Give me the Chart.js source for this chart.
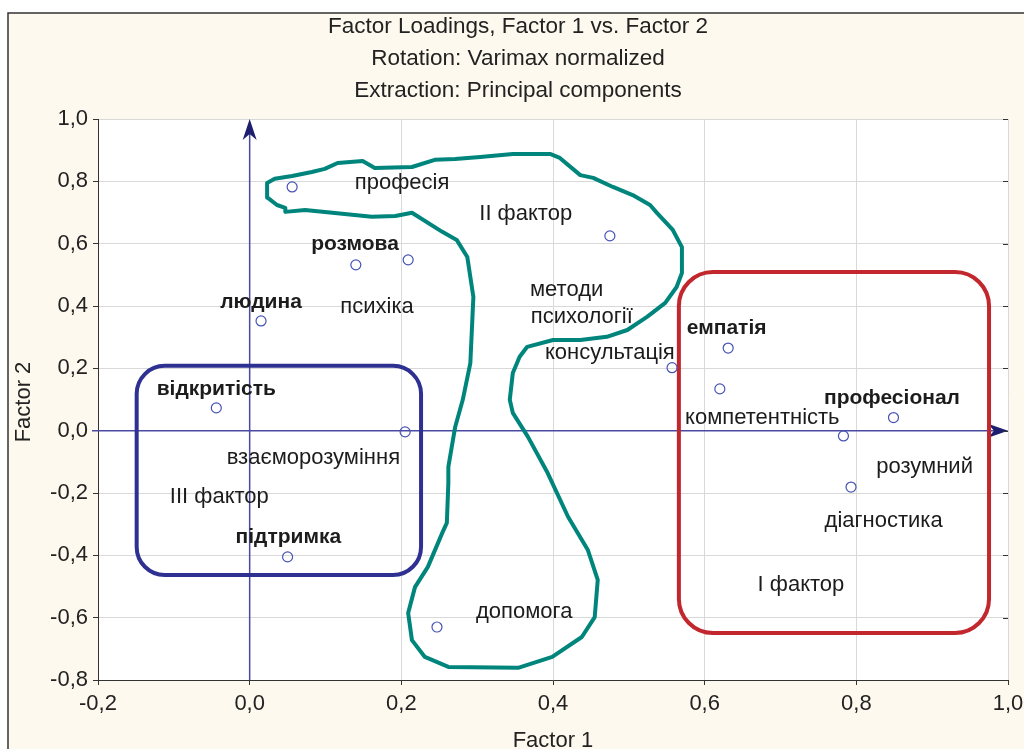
<!DOCTYPE html>
<html>
<head>
<meta charset="utf-8">
<script src="https://cdn.jsdelivr.net/npm/chart.js@4.4.1/dist/chart.umd.min.js"></script>
<style>
  html, body { margin: 0; padding: 0; background: #ffffff; }
  #wrap { width: 1024px; height: 749px; position: relative; }
</style>
</head>
<body>
<div id="wrap"><canvas id="chart"></canvas></div>
<script>
// titles and axis names
const titleLines = ["Factor Loadings, Factor 1 vs. Factor 2", "Rotation: Varimax normalized", "Extraction: Principal components"];
const xAxisName = "Factor 1";
const yAxisName = "Factor 2";

// ticks
const xTickValues = [-0.2, 0, 0.2, 0.4, 0.6, 0.8, 1.0];
const xTickLabels = ["-0,2", "0,0", "0,2", "0,4", "0,6", "0,8", "1,0"];
const yTickValues = [-0.8, -0.6, -0.4, -0.2, 0, 0.2, 0.4, 0.6, 0.8, 1.0];
const yTickLabels = ["-0,8", "-0,6", "-0,4", "-0,2", "0,0", "0,2", "0,4", "0,6", "0,8", "1,0"];

// factor loadings
const factor1 = [0.056, 0.140, 0.209, 0.015, -0.044, 0.205, 0.050, 0.247, 0.475, 0.557, 0.631, 0.620, 0.849, 0.783, 0.793];
const factor2 = [0.782, 0.532, 0.548, 0.352, 0.073, -0.004, -0.405, -0.630, 0.625, 0.202, 0.265, 0.134, 0.042, -0.017, -0.181];

// word labels placed in data coordinates
const labelText = ["професія", "II фактор", "розмова", "людина", "психіка", "методи", "психології", "консультація",
  "відкритість", "взаєморозуміння", "III фактор", "підтримка", "допомога", "емпатія", "професіонал",
  "компетентність", "розумний", "діагностика", "I фактор"];
const labelX = [0.201, 0.364, 0.139, 0.015, 0.168, 0.418, 0.438, 0.475, -0.044, 0.084, -0.040, 0.051, 0.362, 0.629, 0.847, 0.676, 0.890, 0.836, 0.727];
const labelY = [0.795, 0.695, 0.599, 0.413, 0.397, 0.452, 0.365, 0.250, 0.134, -0.088, -0.213, -0.341, -0.581, 0.330, 0.105, 0.041, -0.117, -0.290, -0.495];
const labelBold = [false, false, true, true, false, false, false, false, true, false, false, true, false, true, true, false, false, false, false];

// hand-drawn outline of factor II (closed path)
const blobX = [0.023, 0.033, 0.056, 0.082, 0.099, 0.116, 0.149, 0.165, 0.214, 0.244, 0.271, 0.304, 0.347, 0.396, 0.409,
  0.436, 0.453, 0.479, 0.505, 0.528, 0.537, 0.558, 0.570, 0.570, 0.563, 0.548, 0.524, 0.498, 0.471, 0.436, 0.400,
  0.366, 0.356, 0.347, 0.343, 0.347, 0.367, 0.393, 0.420, 0.446, 0.459, 0.455, 0.438, 0.399, 0.354, 0.262, 0.231,
  0.214, 0.209, 0.218, 0.235, 0.254, 0.260, 0.262, 0.262, 0.271, 0.281, 0.291, 0.295, 0.287, 0.273, 0.254, 0.214,
  0.192, 0.161, 0.109, 0.073, 0.047, 0.047, 0.036, 0.024, 0.023];
const blobY = [0.795, 0.808, 0.817, 0.830, 0.840, 0.859, 0.865, 0.843, 0.846, 0.869, 0.872, 0.878, 0.888, 0.888, 0.875,
  0.820, 0.811, 0.782, 0.756, 0.724, 0.699, 0.644, 0.589, 0.506, 0.461, 0.410, 0.365, 0.323, 0.301, 0.291, 0.291,
  0.269, 0.237, 0.185, 0.099, 0.057, -0.020, -0.136, -0.277, -0.383, -0.479, -0.598, -0.662, -0.726, -0.761, -0.758, -0.726,
  -0.672, -0.585, -0.502, -0.437, -0.328, -0.296, -0.168, -0.116, 0.012, 0.099, 0.217, 0.429, 0.557, 0.612, 0.638, 0.699,
  0.689, 0.686, 0.699, 0.708, 0.702, 0.715, 0.724, 0.747, 0.795];

// rounded boxes for factor III and factor I: [x1, x2, y1, y2]
const boxIII = [-0.149, 0.226, 0.208, -0.463];
const boxI = [0.566, 0.975, 0.509, -0.649];

const FONT = '"Liberation Sans", Arial, sans-serif';

function roundRect(ctx, x1, y1, x2, y2, r) {
  ctx.beginPath();
  ctx.moveTo(x1 + r, y1);
  ctx.lineTo(x2 - r, y1);
  ctx.arcTo(x2, y1, x2, y1 + r, r);
  ctx.lineTo(x2, y2 - r);
  ctx.arcTo(x2, y2, x2 - r, y2, r);
  ctx.lineTo(x1 + r, y2);
  ctx.arcTo(x1, y2, x1, y2 - r, r);
  ctx.lineTo(x1, y1 + r);
  ctx.arcTo(x1, y1, x1 + r, y1, r);
  ctx.closePath();
}

const decor = {
  id: 'decor',
  beforeDraw(chart) {
    const { ctx, chartArea: a, width, height } = chart;
    ctx.save();
    ctx.fillStyle = '#ffffff';
    ctx.fillRect(0, 0, width, height);
    ctx.fillStyle = '#fdf9ee';
    ctx.fillRect(8, 13, width, height);
    ctx.strokeStyle = '#333333';
    ctx.lineWidth = 1.5;
    ctx.beginPath();
    ctx.moveTo(8, height);
    ctx.lineTo(8, 13);
    ctx.lineTo(width, 13);
    ctx.stroke();
    ctx.fillStyle = '#ffffff';
    ctx.fillRect(a.left, a.top, a.width, a.height);

    ctx.fillStyle = '#222222';
    ctx.font = '22.5px ' + FONT;
    ctx.textAlign = 'center';
    ctx.textBaseline = 'alphabetic';
    titleLines.forEach((t, i) => ctx.fillText(t, 518, 33 + i * 32));
    ctx.font = '22px ' + FONT;
    ctx.fillText(xAxisName, 553, 747);
    ctx.translate(30, 402);
    ctx.rotate(-Math.PI / 2);
    ctx.fillText(yAxisName, 0, 0);
    ctx.restore();
  },
  beforeDatasetsDraw(chart) {
    const { ctx, chartArea: a, scales: { x, y } } = chart;
    ctx.save();
    // axis arrows through the origin
    const x0 = x.getPixelForValue(0), y0 = y.getPixelForValue(0);
    ctx.strokeStyle = '#4a4aa2';
    ctx.fillStyle = '#1e1e6e';
    ctx.lineWidth = 1.5;
    ctx.beginPath();
    ctx.moveTo(x0, a.bottom);
    ctx.lineTo(x0, a.top + 6);
    ctx.moveTo(a.left - 6, y0);
    ctx.lineTo(a.right - 6, y0);
    ctx.stroke();
    ctx.beginPath();
    ctx.moveTo(x0, a.top);
    ctx.lineTo(x0 - 7, a.top + 21);
    ctx.lineTo(x0, a.top + 15);
    ctx.lineTo(x0 + 7, a.top + 21);
    ctx.closePath();
    ctx.fill();
    ctx.beginPath();
    ctx.moveTo(a.right, y0);
    ctx.lineTo(a.right - 20, y0 - 7);
    ctx.lineTo(a.right - 14, y0);
    ctx.lineTo(a.right - 20, y0 + 7);
    ctx.closePath();
    ctx.fill();

    // factor boxes
    ctx.lineWidth = 4;
    ctx.strokeStyle = '#2e3192';
    roundRect(ctx, x.getPixelForValue(boxIII[0]), y.getPixelForValue(boxIII[2]),
      x.getPixelForValue(boxIII[1]), y.getPixelForValue(boxIII[3]), 28);
    ctx.stroke();
    ctx.strokeStyle = '#c1272d';
    roundRect(ctx, x.getPixelForValue(boxI[0]), y.getPixelForValue(boxI[2]),
      x.getPixelForValue(boxI[1]), y.getPixelForValue(boxI[3]), 34);
    ctx.stroke();
    ctx.restore();
  },
  afterDatasetsDraw(chart) {
    const { ctx, chartArea: a, scales: { x, y } } = chart;
    ctx.save();
    // small inward ticks on right border
    ctx.strokeStyle = '#333333';
    ctx.lineWidth = 1;
    ctx.beginPath();
    yTickValues.forEach(v => {
      const py = Math.round(y.getPixelForValue(v)) + 0.5;
      ctx.moveTo(a.right - 5, py);
      ctx.lineTo(a.right, py);
    });
    ctx.stroke();

    ctx.fillStyle = '#1c1c1c';
    ctx.textAlign = 'center';
    ctx.textBaseline = 'middle';
    labelText.forEach((t, i) => {
      ctx.font = (labelBold[i] ? 'bold 21px ' : '22px ') + FONT;
      ctx.fillText(t, x.getPixelForValue(labelX[i]), y.getPixelForValue(labelY[i]));
    });
    ctx.restore();
  }
};

const canvas = document.getElementById('chart');
canvas.width = 1024;
canvas.height = 749;

new Chart(canvas.getContext('2d'), {
  type: 'scatter',
  data: {
    datasets: [
      {
        type: 'line',
        label: 'Factor II outline',
        data: blobX.map((v, i) => ({ x: v, y: blobY[i] })),
        showLine: true,
        fill: false,
        tension: 0,
        pointRadius: 0,
        borderColor: '#00857c',
        borderWidth: 4,
        borderJoinStyle: 'round',
        borderCapStyle: 'round',
        order: 2
      },
      {
        label: 'Loadings',
        data: factor1.map((v, i) => ({ x: v, y: factor2[i] })),
        pointStyle: 'circle',
        pointRadius: 5,
        borderWidth: 1.2,
        borderColor: '#4653b5',
        backgroundColor: 'rgba(255,255,255,0)',
        order: 1
      }
    ]
  },
  options: {
    responsive: false,
    animation: false,
    events: [],
    layout: { padding: { top: 119, right: 16, bottom: 0, left: 0 } },
    plugins: {
      legend: { display: false },
      tooltip: { enabled: false },
      title: { display: false }
    },
    scales: {
      x: {
        type: 'linear',
        min: -0.2,
        max: 1.0,
        afterBuildTicks: s => { s.ticks = xTickValues.map(v => ({ value: v })); },
        afterFit: s => { s.height = 69; s.paddingLeft = 0; s.paddingRight = 0; },
        ticks: {
          callback: (v, i) => xTickLabels[i],
          color: '#222222',
          font: { size: 22, family: FONT },
          padding: 6,
          maxRotation: 0,
          autoSkip: false
        },
        grid: { color: '#d9d9d9', tickColor: '#333333', tickLength: 5, lineWidth: 1 },
        border: { display: true, color: '#333333', width: 1 }
      },
      y: {
        type: 'linear',
        min: -0.8,
        max: 1.0,
        afterBuildTicks: s => { s.ticks = yTickValues.map(v => ({ value: v })); },
        afterFit: s => { s.width = 98; s.paddingTop = 0; s.paddingBottom = 0; },
        ticks: {
          callback: (v, i) => yTickLabels[i],
          color: '#222222',
          font: { size: 22, family: FONT },
          padding: 5,
          autoSkip: false
        },
        grid: { color: '#d9d9d9', tickColor: '#333333', tickLength: 5, lineWidth: 1 },
        border: { display: true, color: '#333333', width: 1 }
      }
    }
  },
  plugins: [decor]
});
</script>
</body>
</html>
